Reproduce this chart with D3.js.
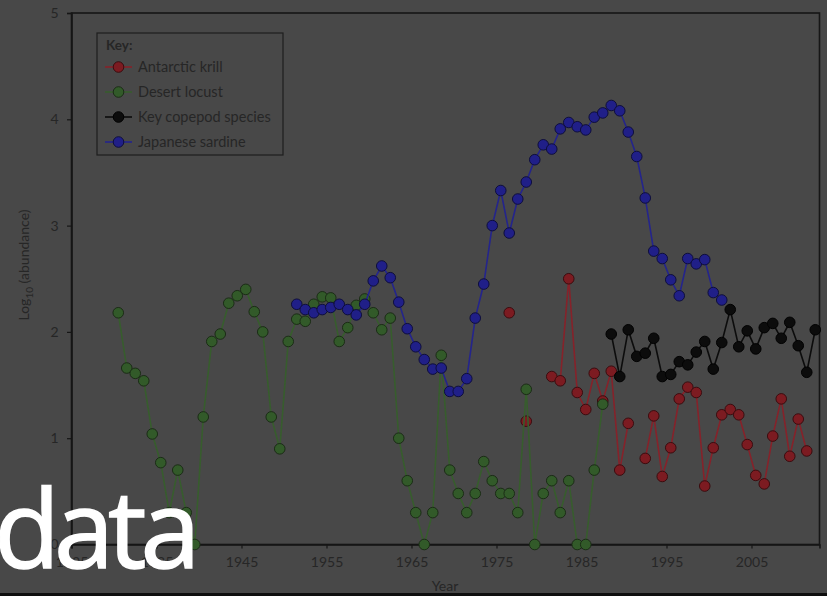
<!DOCTYPE html>
<html>
<head>
<meta charset="utf-8">
<script src="https://cdn.jsdelivr.net/npm/d3@7"></script>
<style>
  body { margin: 0; background: #484848; }
  svg { display: block; }
</style>
</head>
<body>
<svg id="chart" width="827" height="596"></svg>
<script>
// Axis ticks
const xTickYears = [1925, 1935, 1945, 1955, 1965, 1975, 1985, 1995, 2005];
const yTickValues = [0, 1, 2, 3, 4, 5];

// Log10 abundance series, one value per year from the start year (null = no record)
const krillStart = 1976;
const krillValues = [2.18, null, 1.16, null, null, 1.58, 1.54, 2.50, 1.43, 1.27, 1.61, 1.35,
  1.63, 0.70, 1.14, null, 0.81, 1.21, 0.64, 0.91, 1.37, 1.48, 1.43, 0.55, 0.91, 1.22,
  1.27, 1.22, 0.94, 0.65, 0.57, 1.02, 1.37, 0.83, 1.18, 0.88];

const locustStart = 1930;
const locustValues = [2.18, 1.66, 1.61, 1.54, 1.04, 0.77, 0.30, 0.70, 0.30, 0.00,
  1.20, 1.91, 1.98, 2.27, 2.34, 2.40, 2.19, 2.00, 1.20, 0.90,
  1.91, 2.12, 2.10, 2.26, 2.33, 2.32, 1.91, 2.04, 2.25, 2.31,
  2.18, 2.02, 2.13, 1.00, 0.60, 0.30, 0.00, 0.30, 1.78, 0.70,
  0.48, 0.30, 0.48, 0.78, 0.60, 0.48, 0.48, 0.30, 1.46, 0.00,
  0.48, 0.60, 0.30, 0.60, 0.00, 0.00, 0.70, 1.32];

const copepodStart = 1988;
const copepodValues = [1.98, 1.58, 2.02, 1.77, 1.80, 1.94, 1.58, 1.60, 1.72, 1.69,
  1.81, 1.91, 1.65, 1.90, 2.21, 1.86, 2.01, 1.84, 2.04, 2.08, 1.94, 2.09, 1.87, 1.62, 2.02];

const sardineStart = 1951;
const sardineValues = [2.26, 2.21, 2.18, 2.21, 2.23, 2.26, 2.21, 2.16, 2.26, 2.48,
  2.62, 2.51, 2.28, 2.03, 1.86, 1.74, 1.65, 1.66, 1.44, 1.44,
  1.56, 2.13, 2.45, 3.00, 3.33, 2.93, 3.25, 3.41, 3.62, 3.76,
  3.72, 3.91, 3.97, 3.93, 3.90, 4.02, 4.06, 4.13, 4.08, 3.88,
  3.65, 3.26, 2.76, 2.69, 2.49, 2.34, 2.69, 2.64, 2.68, 2.37, 2.30];

const seriesNames = ["Antarctic krill", "Desert locust", "Key copepod species", "Japanese sardine"];

const series = [
  { name: seriesNames[0], start: krillStart, values: krillValues,
    line: "#86222a", fill: "#7c1b21", edge: "#3a0c0f" },
  { name: seriesNames[1], start: locustStart, values: locustValues,
    line: "#375d2d", fill: "#325a29", edge: "#1b2c16" },
  { name: seriesNames[2], start: copepodStart, values: copepodValues,
    line: "#0c0c0c", fill: "#0c0c0c", edge: "#020202" },
  { name: seriesNames[3], start: sardineStart, values: sardineValues,
    line: "#24248c", fill: "#201f88", edge: "#0e0e3c" }
];

const svg = d3.select("#chart");
const ink = "#262626";
const frame = "#161616";
const font = "Lato, 'Open Sans', sans-serif";

// Plot area
const x = d3.scaleLinear().domain([1925, 2013]).range([71.5, 819.5]);
const y = d3.scaleLinear().domain([0, 5]).range([544.5, 13]);
// each yearly value sits in the middle of its year
const px = yr => x(yr + 0.5);

// frame around the plot
svg.append("rect")
  .attr("x", x(1925)).attr("y", y(5))
  .attr("width", x(2013) - x(1925)).attr("height", y(0) - y(5))
  .attr("fill", "none").attr("stroke", frame).attr("stroke-width", 1.6);

// axes
const xAxis = svg.append("g")
  .attr("transform", `translate(0,${y(0)})`)
  .call(d3.axisBottom(x).tickValues(xTickYears).tickFormat(d3.format("d"))
    .tickSize(4).tickPadding(9));
const yAxis = svg.append("g")
  .attr("transform", `translate(${x(1925)},0)`)
  .call(d3.axisLeft(y).tickValues(yTickValues).tickFormat(d3.format("d"))
    .tickSize(4.5).tickPadding(8.5));
[xAxis, yAxis].forEach(g => {
  g.select(".domain").attr("stroke", frame).attr("stroke-width", 1.6);
  g.selectAll(".tick line").attr("stroke", frame).attr("stroke-width", 1.2);
  g.selectAll(".tick text").attr("fill", ink).attr("font-family", font).attr("font-size", 14);
});

// axis titles
svg.append("text")
  .attr("x", 445).attr("y", 591)
  .attr("text-anchor", "middle")
  .attr("font-family", font).attr("font-size", 14).attr("fill", ink)
  .text("Year");

const yTitle = svg.append("text")
  .attr("transform", "translate(29,265) rotate(-90)")
  .attr("text-anchor", "middle")
  .attr("font-family", font).attr("font-size", 14).attr("fill", ink);
yTitle.append("tspan").text("Log");
yTitle.append("tspan").attr("font-size", 10).attr("dy", 4).text("10");
yTitle.append("tspan").attr("dy", -4).text(" (abundance)");

// series lines and markers
const line = d3.line()
  .defined(d => d.v !== null)
  .x(d => px(d.year))
  .y(d => y(d.v));

series.forEach(s => {
  const pts = s.values.map((v, i) => ({ year: s.start + i, v }));
  const g = svg.append("g");
  g.append("path")
    .datum(pts)
    .attr("d", line)
    .attr("fill", "none")
    .attr("stroke", s.line)
    .attr("stroke-width", 1.6);
  g.selectAll("circle")
    .data(pts.filter(d => d.v !== null))
    .join("circle")
    .attr("cx", d => px(d.year))
    .attr("cy", d => y(d.v))
    .attr("r", 5.3)
    .attr("fill", s.fill)
    .attr("stroke", s.edge)
    .attr("stroke-width", 1);
});

// legend
const legend = svg.append("g");
legend.append("rect")
  .attr("x", 97).attr("y", 33).attr("width", 186).attr("height", 122)
  .attr("fill", "none").attr("stroke", "#1e1e1e").attr("stroke-width", 1.2);
legend.append("text")
  .attr("x", 106).attr("y", 50)
  .attr("font-family", font).attr("font-size", 13.5).attr("font-weight", "bold")
  .attr("fill", ink).text("Key:");
series.forEach((s, i) => {
  const cy = 67 + i * 25;
  legend.append("line")
    .attr("x1", 105).attr("x2", 132).attr("y1", cy).attr("y2", cy)
    .attr("stroke", s.line).attr("stroke-width", 1.6);
  legend.append("circle")
    .attr("cx", 118.5).attr("cy", cy).attr("r", 5.3)
    .attr("fill", s.fill).attr("stroke", s.edge).attr("stroke-width", 1);
  legend.append("text")
    .attr("x", 138).attr("y", cy + 5)
    .attr("font-family", font).attr("font-size", 14.5)
    .attr("fill", ink).text(s.name);
});

// caption overlay
svg.append("text")
  .attr("x", -6).attr("y", 568)
  .attr("font-family", "'Open Sans', 'Noto Sans', sans-serif")
  .attr("font-size", 108)
  .attr("letter-spacing", -6)
  .attr("fill", "#ffffff")
  .attr("stroke", "#ffffff")
  .attr("stroke-width", 1.5)
  .text("data");

// dark strip along the bottom edge
svg.append("rect")
  .attr("x", 0).attr("y", 593).attr("width", 827).attr("height", 3)
  .attr("fill", "#0e0e0e");
</script>
</body>
</html>
